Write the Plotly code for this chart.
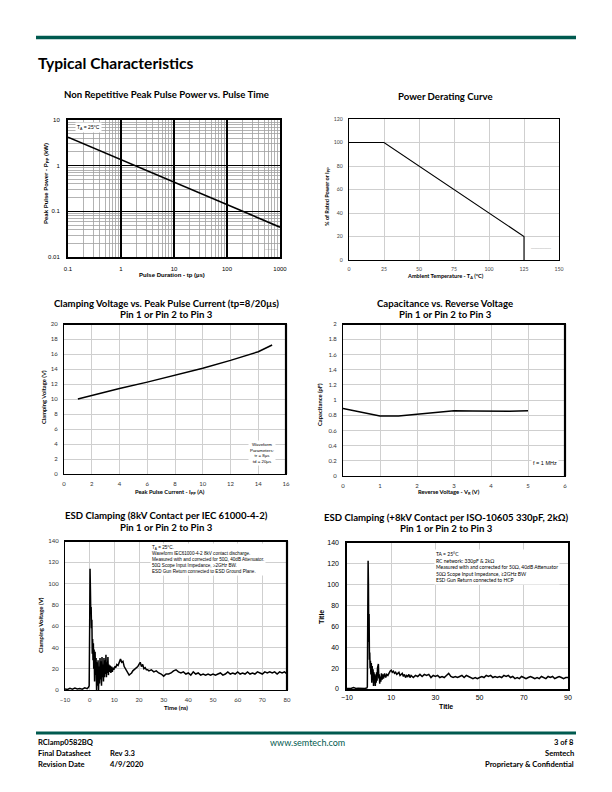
import plotly.graph_objects as go

W, H = 612, 792
def px(x): return x / W
def py(y): return 1 - y / H

# ---------------- data ----------------
# Chart 1: Non repetitive peak pulse power vs pulse time
ppp_tp = [0.1, 1, 10, 100, 1000]
ppp_kw = [4.2, 1.35, 0.44, 0.145, 0.045]
ppp_xticks = [0.1, 1, 10, 100, 1000]
ppp_xticktext = ["0.1", "1", "10", "100", "1000"]
ppp_yticks = [0.01, 0.1, 1, 10]
ppp_yticktext = ["0.01", "0.1", "1", "10"]

# Chart 2: power derating
der_temp = [0, 25, 125, 125]
der_pct = [100, 100, 20, 0]

# Chart 3: clamping voltage vs peak pulse current
vc_ipp = [1, 2, 4, 6, 8, 10, 12, 14, 15]
vc_v = [10.0, 10.5, 11.4, 12.25, 13.15, 14.1, 15.15, 16.3, 17.2]

# Chart 4: capacitance vs reverse voltage
cap_vr = [0, 0.5, 1, 1.5, 2, 2.5, 3, 3.5, 4, 4.5, 5]
cap_pf = [0.89, 0.84, 0.79, 0.79, 0.81, 0.835, 0.857, 0.855, 0.85, 0.852, 0.86]

# Chart 5: ESD clamping IEC 61000-4-2
esd1_t = [
    -10, -9, -8, -7, -6, -5, -4, -3, -2, -1,
    -0.5, -0.2, 0, 0.15, 0.3, 0.45, 0.6, 0.75, 0.9, 1.05,
    1.2, 1.35, 1.5, 1.65, 1.8, 2.0, 2.2, 2.4, 2.6, 2.8,
    3.0, 3.2, 3.4, 3.6, 3.8, 4.0, 4.2, 4.4, 4.6, 4.8,
    5.0, 5.2, 5.4, 5.6, 5.8, 6.0, 6.2, 6.4, 6.6, 6.8,
    7.0, 7.2, 7.4, 7.6, 7.8, 8.0, 8.3, 8.6, 8.9, 9.2,
    9.5, 9.8, 10.2, 10.6, 11.0, 11.5, 12.0, 12.5, 13.0, 13.5,
    14.0, 14.5, 15.0, 15.5, 16.0, 16.5, 17.0, 17.5, 18.0, 18.5,
    19.0, 19.5, 20.0, 20.5, 21.0, 21.5, 22.0, 22.5, 23.0, 23.5,
    24, 25, 26, 27, 28, 29, 30, 31, 32, 33,
    34, 35, 36, 37, 38, 39, 40, 41, 42, 43,
    44, 45, 46, 47, 48, 49, 50, 51, 52, 53,
    54, 55, 56, 57, 58, 59, 60, 61, 62, 63,
    64, 65, 66, 67, 68, 69, 70, 71, 72, 73,
    74, 75, 76, 77, 78, 79, 80]
esd1_v = [
    1.0, 0.5, 1.5, 0.8, 1.8, 1.0, 1.4, 0.8, 2.0, 1.2,
    2.5, 4, 60, 114, 95, 72, 78, 58, 66, 34,
    48, 28, 44, 20, 38, 8, 36, 14, 30, 0,
    26, 4, 28, 0, 22, 6, 30, 10, 27, 4,
    31, 12, 24, 8, 30, 12, 28, 15, 33, 12,
    26, 16, 31, 14, 24, 17, 23, 16, 22, 17,
    21, 19, 22, 21, 24, 23, 27, 29, 26, 27,
    22, 20, 17, 15, 14, 15, 16, 18, 19, 20,
    21, 22, 24, 26, 22, 24, 20, 21, 19, 19,
    18, 19, 17, 18, 16, 15, 13, 15, 15, 16,
    18, 19, 17, 16, 17, 15, 16, 14, 17, 15,
    16, 14, 15, 14, 15, 14, 15, 14, 15, 16,
    14, 15, 17, 15, 16, 15, 17, 15, 16, 15,
    17, 15, 16, 15, 17, 16, 15, 17, 16, 17,
    16, 17, 15, 17, 16, 17, 15]

# Chart 6: ESD clamping ISO-10605
esd2_t = [
    -10, -9, -8, -7, -6, -5, -4, -3, -2, -1.5,
    -1, -0.8, -0.6, -0.45, -0.3, -0.15, 0, 0.15, 0.3, 0.45,
    0.6, 0.8, 1.0, 1.2, 1.4, 1.6, 1.8, 2.0, 2.2, 2.4,
    2.6, 2.8, 3.0, 3.2, 3.4, 3.6, 3.8, 4.0, 4.2, 4.4,
    4.6, 4.8, 5.0, 5.3, 5.6, 5.9, 6.2, 6.5, 7, 7.5,
    8, 8.5, 9, 9.5, 10, 10.5, 11, 11.5, 12, 12.5,
    13, 13.5, 14, 14.5, 15, 15.5, 16, 16.5, 17, 17.5,
    18, 18.5, 19, 19.5, 20, 21, 22, 23, 24, 25,
    26, 27, 28, 29, 30, 31, 32, 33, 34, 35,
    36, 37, 38, 39, 40, 41, 42, 43, 44, 45,
    46, 47, 48, 49, 50, 51, 52, 53, 54, 55,
    56, 57, 58, 59, 60, 61, 62, 63, 64, 65,
    66, 67, 68, 69, 70, 71, 72, 73, 74, 75,
    76, 77, 78, 79, 80, 81, 82, 83, 84, 85,
    86, 87, 88, 89, 90]
esd2_v = [
    0.5, 0.3, 0.8, 1.5, 0.5, 0.6, 0.4, 0.8, 0.5, 0.8,
    1.0, 2, 70, 123, 100, 45, 72, 28, 35, 20,
    27, 14, 25, 6, 22, 10, 19, 3, 16, 8,
    14, 3, 12, 6, 16, 8, 20, 22, 24, 10,
    14, 5, 12, 7, 15, 9, 14, 10, 15, 11,
    14, 13, 16, 17, 18, 16, 17, 15, 16, 14,
    15, 16, 13, 14, 15, 12, 14, 11, 13, 12,
    14, 11, 13, 12, 11, 13, 12, 14, 12, 14,
    13, 14, 11, 13, 12, 13, 11, 12, 11, 13,
    15, 12, 11, 12, 11, 12, 13, 11, 13, 12,
    11, 10, 11, 10, 11, 12, 11, 13, 12, 13,
    11, 12, 11, 12, 11, 13, 12, 13, 11, 12,
    10, 11, 10, 12, 11, 10, 11, 12, 11, 10,
    11, 10, 12, 11, 10, 12, 11, 12, 10, 11,
    12, 11, 10, 11, 11]

# ---------------- styling ----------------
TEAL = "#005a4f"
GRID = "#cfcfcf"
TITLE_FONT = "Lato"
AX_FONT = "Liberation Sans"

fig = go.Figure()

def line(x, y, n, width=1.5):
    ax = "" if n == 1 else str(n)
    fig.add_trace(go.Scatter(x=x, y=y, mode="lines", xaxis="x" + ax, yaxis="y" + ax,
                             line=dict(color="black", width=width),
                             showlegend=False, hoverinfo="skip"))

line(ppp_tp, ppp_kw, 1, 1.6)
line(der_temp, der_pct, 2, 1.1)
line(vc_ipp, vc_v, 3, 1.5)
line(cap_vr, cap_pf, 4, 1.5)
line(esd1_t, esd1_v, 5, 1.5)
line(esd2_t, esd2_v, 6, 1.5)

def lin_axes(n, xd, yd, xr, xdt, yr, ydt, tickfont, linew=1.0, xtick0=None,
             gridc=GRID, standoff=4, xstandoff=None):
    s = "" if n == 1 else str(n)
    xa = dict(domain=[px(xd[0]), px(xd[1])], anchor="y" + s, range=xr, dtick=xdt,
              showgrid=True, gridcolor=gridc, gridwidth=1, zeroline=False,
              showline=True, mirror=True, linecolor="black", linewidth=linew,
              ticks="", tickfont=tickfont,
              ticklabelstandoff=standoff if xstandoff is None else xstandoff,
              automargin=False, fixedrange=True)
    if xtick0 is not None:
        xa["tick0"] = xtick0
    ya = dict(domain=[py(yd[1]), py(yd[0])], anchor="x" + s, range=yr, dtick=ydt,
              showgrid=True, gridcolor=gridc, gridwidth=1, zeroline=False,
              showline=True, mirror=True, linecolor="black", linewidth=linew,
              ticks="", tickfont=tickfont, ticklabelstandoff=standoff,
              automargin=False, fixedrange=True)
    fig.layout["xaxis" + s] = xa
    fig.layout["yaxis" + s] = ya

# Chart 1 (log-log)
fig.layout["xaxis"] = dict(
    domain=[px(68), px(280)], anchor="y", type="log", range=[-1, 3],
    tickmode="array", tickvals=ppp_xticks, ticktext=ppp_xticktext,
    showgrid=True, gridcolor="black", gridwidth=1.3, zeroline=False,
    minor=dict(dtick="D1", showgrid=True, gridcolor="#a0a0a0", gridwidth=0.8),
    showline=True, mirror=True, linecolor="black", linewidth=2,
    ticks="", tickfont=dict(family=AX_FONT, size=6, color="black"),
    ticklabelstandoff=5, automargin=False, fixedrange=True)
fig.layout["yaxis"] = dict(
    domain=[py(257), py(120)], anchor="x", type="log", range=[-2, 1],
    tickmode="array", tickvals=ppp_yticks, ticktext=ppp_yticktext,
    showgrid=True, gridcolor="black", gridwidth=1.3, zeroline=False,
    minor=dict(dtick="D1", showgrid=True, gridcolor="#a0a0a0", gridwidth=0.8),
    showline=True, mirror=True, linecolor="black", linewidth=2,
    ticks="", tickfont=dict(family=AX_FONT, size=6, color="black"),
    ticklabelstandoff=5, automargin=False, fixedrange=True)

small_gray = dict(family="Lato", size=5.2, color="#444")
lin_axes(2, (349, 559), (119, 260), [0, 150], 25, [0, 120], 20, small_gray, linew=1.2)
mid_font = dict(family="Lato", size=6, color="#333")
lin_axes(3, (64, 286), (324, 474), [0, 16], 2, [0, 20], 2, mid_font)
lin_axes(4, (343, 565), (324, 476), [0, 6], 1, [0, 2], 0.2, mid_font)
lin_axes(5, (65, 287), (541, 690), [-10, 80], 10, [0, 140], 20, mid_font)
lin_axes(6, (347, 568), (543, 689), [-10, 90], 20, [0, 140], 20,
         dict(family=AX_FONT, size=7, color="black"), linew=1.6, xtick0=-10,
         standoff=5, xstandoff=1)

shapes = []
# page rules
shapes.append(dict(type="line", xref="paper", yref="paper", x0=px(36), x1=px(576),
                   y0=py(37.5), y1=py(37.5), line=dict(color=TEAL, width=3.5),
                   layer="above"))
shapes.append(dict(type="line", xref="paper", yref="paper", x0=px(36), x1=px(576),
                   y0=py(733), y1=py(733), line=dict(color=TEAL, width=3),
                   layer="above"))
# thicker top/right frame edges (shadow style) on charts 3-5
for s in ["3", "4", "5"]:
    shapes.append(dict(type="line", xref="x%s domain" % s, yref="y%s domain" % s,
                       x0=0, x1=1, y0=1, y1=1, line=dict(color="black", width=2.2)))
    shapes.append(dict(type="line", xref="x%s domain" % s, yref="y%s domain" % s,
                       x0=1, x1=1, y0=0, y1=1, line=dict(color="black", width=2.2)))
fig.layout.shapes = shapes

ann = []
def text(x, y, t, size, family=TITLE_FONT, color="black", xanchor="center",
         angle=0, bg=None, align="center", yanchor="middle"):
    d = dict(x=px(x), y=py(y), xref="paper", yref="paper", text=t, showarrow=False,
             font=dict(family=family, size=size, color=color), xanchor=xanchor,
             yanchor=yanchor, textangle=angle, align=align)
    if bg:
        d["bgcolor"] = bg
    ann.append(d)

# page title
text(36, 63, "<b>Typical Characteristics</b>", 15.6, xanchor="left")

# chart titles
TS = 9.6
text(166, 95, "<b>Non Repetitive Peak Pulse Power vs. Pulse Time</b>", TS)
text(445, 96, "<b>Power Derating Curve</b>", TS)
text(167, 303, "<b>Clamping Voltage vs. Peak Pulse Current (tp=8/20µs)</b>", TS)
text(167, 314.5, "<b>Pin 1 or Pin 2 to Pin 3</b>", TS)
text(445, 303, "<b>Capacitance vs. Reverse Voltage</b>", TS)
text(445, 314.5, "<b>Pin 1 or Pin 2 to Pin 3</b>", TS)
text(166, 515, "<b>ESD Clamping (8kV Contact per IEC 61000-4-2)</b>", TS)
text(166, 527, "<b>Pin 1 or Pin 2 to Pin 3</b>", TS)
text(446, 517, "<b>ESD Clamping (+8kV Contact per ISO-10605 330pF, 2kΩ)</b>", TS)
text(446, 528.5, "<b>Pin 1 or Pin 2 to Pin 3</b>", TS)

# axis titles
text(172, 275, "<b>Pulse Duration - tp (µs)</b>", 6, family=AX_FONT)
text(47, 184, "<b>Peak Pulse Power - P<sub>PP</sub> (kW)</b>", 6, family=AX_FONT, angle=-90)
text(445, 276, "<b>Ambient Temperature - T<sub>A</sub> (°C)</b>", 5.6, family="Lato")
text(327, 197, "<b>% of Rated Power or I<sub>PP</sub></b>", 5.6, family="Lato", angle=-90)
text(170, 492, "<b>Peak Pulse Current - I<sub>PP</sub> (A)</b>", 5.8, family="Lato")
text(43, 397, "<b>Clamping Voltage (V)</b>", 5.8, family="Lato", angle=-90)
text(449, 492, "<b>Reverse Voltage - V<sub>R</sub> (V)</b>", 5.8, family="Lato")
text(319, 405, "<b>Capacitance (pF)</b>", 5.8, family="Lato", angle=-90)
text(176, 707, "<b>Time (ns)</b>", 6, family="Lato")
text(40, 625, "<b>Clamping Voltage (V)</b>", 6, family="Lato", angle=-90)
text(446, 706, "<b>Title</b>", 7, family=AX_FONT)
text(321, 617, "<b>Title</b>", 7, family=AX_FONT, angle=-90)

# in-plot notes
text(88, 127.5, "T<sub>A</sub> = 25°C", 5, family=AX_FONT, bg="white")
text(271, 250, "xxxxxxxxxx", 2.5, family=AX_FONT, color="#888")
text(541, 248, "xxxxxxxxxxxxxxxx", 2.5, family=AX_FONT, color="#888")
text(262, 453, "Waveform<br>Parameters:<br>tr = 8µs<br>td = 20µs", 4.4,
     family=AX_FONT, bg="white")
text(545, 463, "f = 1 MHz", 5.5, family=AX_FONT, bg="white")
text(150, 559,
     "T<sub>A</sub> = 25°C.<br>Waveform IEC61000-4-2 8kV contact discharge.<br>"
     "Measured with and corrected for 50Ω, 40dB Attenuator.<br>"
     "50Ω Scope Input Impedance, ≥2GHz BW.<br>ESD Gun Return connected to ESD Ground Plane.",
     4.6, family=AX_FONT, xanchor="left", align="left", bg="white")
text(434, 567,
     "TA = 25°C<br>RC network: 330pF & 2kΩ<br>"
     "Measured with and corrected for 50Ω, 40dB Attenuator<br>"
     "50Ω Scope Input Impedance, ≥2GHz BW<br>ESD Gun Return connected to HCP",
     5.0, family="Lato", xanchor="left", align="left", bg="white")

# footer
FS = 7.6
text(36, 742, "<b>RClamp0582BQ</b>", FS, xanchor="left")
text(36, 753, "<b>Final Datasheet</b>", FS, xanchor="left")
text(36, 764, "<b>Revision Date</b>", FS, xanchor="left")
text(108, 753, "<b>Rev 3.3</b>", FS, xanchor="left")
text(108, 764, "<b>4/9/2020</b>", FS, xanchor="left")
text(307, 742, "www.semtech.com", 9, color=TEAL)
text(576, 742, "<b>3 of 8</b>", FS, xanchor="right")
text(576, 753, "<b>Semtech</b>", FS, xanchor="right")
text(576, 764, "<b>Proprietary &amp; Confidential</b>", FS, xanchor="right")

fig.layout.annotations = ann
fig.update_layout(width=W, height=H, autosize=False,
                  margin=dict(l=0, r=0, t=0, b=0, pad=0),
                  paper_bgcolor="white", plot_bgcolor="white")

fig.write_html("out.html",
               config={"displayModeBar": False, "staticPlot": True},
               post_script="document.body.style.margin='0';"
                           "document.body.style.padding='0';"
                           "document.body.style.overflow='hidden';")
